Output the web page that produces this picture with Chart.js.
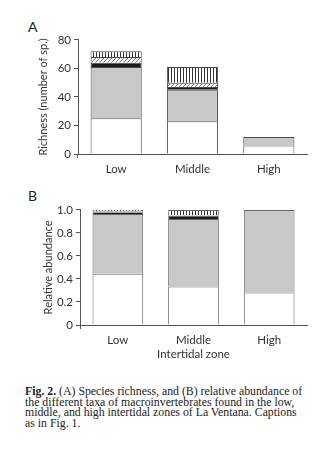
<!DOCTYPE html>
<html>
<head>
<meta charset="utf-8">
<script src="https://cdn.jsdelivr.net/npm/chart.js@4.4.1/dist/chart.umd.min.js"></script>
<style>
  body { margin: 0; background: #fff; width: 335px; height: 457px; position: relative; overflow: hidden; }
  .lbl { position: absolute; font: 14px Lato, sans-serif; color: #222; }
  #wrapA { position: absolute; left: 0; top: 30px; width: 320px; height: 150px; }
  #wrapB { position: absolute; left: 0; top: 200px; width: 320px; height: 165px; }
  #caption { position: absolute; left: 25px; top: 386px; width: 310px; font: 11.8px "Liberation Serif", serif; line-height: 10.7px; color: #222; white-space: nowrap; }
</style>
</head>
<body>
<div class="lbl" style="left:28px;top:18px;">A</div>
<div class="lbl" style="left:28px;top:187px;">B</div>
<div id="wrapA"><canvas id="chartA"></canvas></div>
<div id="wrapB"><canvas id="chartB"></canvas></div>
<div id="caption"><b>Fig. 2.</b> (A) Species richness, and (B) relative abundance of<br>the different taxa of macroinvertebrates found in the low,<br>middle, and high intertidal zones of La Ventana. Captions<br>as in Fig. 1.</div>
<script>
// datos
const zones = ['Low', 'Middle', 'High'];

// A: riqueza (numero de especies), de abajo hacia arriba
const richWhite = [25, 23, 6];
const richGray = [36, 22, 6];
const richBlack = [3, 2, 0];
const richHatch = [4, 3, 0];
const richVert = [4, 11, 0];

// B: abundancia relativa
const abundWhite = [0.445, 0.335, 0.283];
const abundGray = [0.52, 0.587, 0.717];
const abundBlack = [0.015, 0.028, 0];
const abundHatch = [0.008, 0.005, 0];
const abundVert = [0.012, 0.045, 0];

const richTicks = [0, 20, 40, 60, 80];
const abundTicks = [0, 0.2, 0.4, 0.6, 0.8, 1.0];

// patrones de relleno
function makePattern(kind) {
  const c = document.createElement('canvas');
  const g = c.getContext('2d');
  if (kind === 'vert') {
    c.width = 3; c.height = 3;
    g.fillStyle = '#fff'; g.fillRect(0, 0, 3, 3);
    g.fillStyle = '#333'; g.fillRect(0, 0, 1, 3);
  } else {
    c.width = 4; c.height = 4;
    g.fillStyle = '#fff'; g.fillRect(0, 0, 4, 4);
    g.strokeStyle = '#777'; g.lineWidth = 1;
    g.beginPath();
    g.moveTo(0, 4); g.lineTo(4, 0);
    g.moveTo(-1, 1); g.lineTo(1, -1);
    g.moveTo(3, 5); g.lineTo(5, 3);
    g.stroke();
  }
  return document.createElement('canvas').getContext('2d').createPattern(c, 'repeat');
}

const fills = ['#ffffff', '#c8c8c8', '#1c1c1c', makePattern('hatch'), makePattern('vert')];
const font = { family: 'Lato, sans-serif', size: 11.5 };
const titleFont = { family: 'Lato, sans-serif', size: 11 };

function buildDatasets(series, edge) {
  return series.map((vals, i) => ({
    data: vals,
    backgroundColor: fills[i],
    borderColor: edge,
    borderWidth: ctx => (ctx.raw ? 1 : 0),
    borderSkipped: 'start',
    barPercentage: 0.67,
    categoryPercentage: 1
  }));
}

function makeChart(id, series, ticks, max, yTitle, xTitle, padLeft, yWidth, xHeight, edge) {
  return new Chart(document.getElementById(id), {
    type: 'bar',
    data: { labels: zones, datasets: buildDatasets(series, edge) },
    options: {
      responsive: true,
      maintainAspectRatio: false,
      animation: false,
      layout: { padding: { top: 9, right: 13, left: padLeft, bottom: 0 } },
      plugins: { legend: { display: false }, tooltip: { enabled: false } },
      scales: {
        x: {
          stacked: true,
          grid: { display: true, drawOnChartArea: false, offset: true, tickLength: 4,
            color: ctx => (ctx.index === 0 || ctx.index === 3 ? '#555' : 'rgba(0,0,0,0)') },
          border: { color: '#555', width: 1 },
          ticks: { color: '#333', font: font, padding: 4 },
          title: { display: !!xTitle, text: xTitle, color: '#333', font: font, padding: { top: 0 } },
          afterFit: s => { s.height = xHeight; }
        },
        y: {
          stacked: true,
          min: 0,
          max: max,
          afterBuildTicks: s => { s.ticks = ticks.map(v => ({ value: v })); },
          grid: { display: true, drawOnChartArea: false, tickLength: 4, color: '#555' },
          border: { color: '#555', width: 1 },
          ticks: { color: '#333', font: font, padding: 3,
            callback: v => (max === 1 ? (v === 0 ? '0' : v.toFixed(1)) : v) },
          title: { display: true, text: yTitle, color: '#333', font: titleFont, padding: { top: 0, bottom: 2 } },
          afterFit: s => { s.width = yWidth; }
        }
      }
    }
  });
}

makeChart('chartA', [richWhite, richGray, richBlack, richHatch, richVert], richTicks, 80,
  'Richness (number of sp.)', '', 37, 41, 26, '#4a4a4a');
makeChart('chartB', [abundWhite, abundGray, abundBlack, abundHatch, abundVert], abundTicks, 1,
  'Relative abundance', 'Intertidal zone', 42, 38, 40, '#666');
</script>
</body>
</html>
